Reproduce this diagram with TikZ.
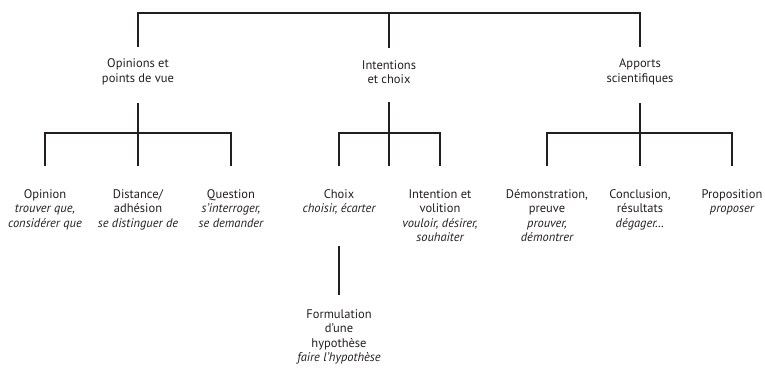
\documentclass[tikz,border=0pt]{standalone}
\usepackage{fontspec}
\setmainfont{PT Sans}
\definecolor{ink}{RGB}{35,31,32}

\begin{document}
\begin{tikzpicture}[x=1pt,y=-1pt,
    lab/.style={align=center,inner sep=0pt,text=ink,
      font=\fontsize{12.5}{14.5}\selectfont},
    link/.style={ink,line width=1.8pt}]
  \useasboundingbox (0,0) rectangle (765,367);
  % premier niveau
  \coordinate (top) at (389,13);
  \node[lab] (opin) at (138,72) {Opinions et\\points de vue};
  \node[lab] (inte) at (389,72) {Intentions\\et choix};
  \node[lab] (appo) at (640,72) {Apports\\scientifiques};
  \draw[link] ([yshift=12pt]opin.north) |- (top) -| ([yshift=12pt]appo.north);
  \draw[link] (top) -- ([yshift=12pt]inte.north);
  % second niveau
  \node[lab,anchor=north] (opi) at (45,189) {Opinion\\\itshape trouver que,\\\itshape considérer que};
  \node[lab,anchor=north] (dist) at (138,189) {Distance/\\adhésion\\\itshape se distinguer de};
  \node[lab,anchor=north] (ques) at (231,189) {Question\\\itshape s’interroger,\\\itshape se demander};
  \node[lab,anchor=north] (choix) at (339,189) {Choix\\\itshape choisir, écarter};
  \node[lab,anchor=north] (voli) at (440,189) {Intention et\\volition\\\itshape vouloir, désirer,\\\itshape souhaiter};
  \node[lab,anchor=north] (demo) at (547,189) {Démonstration,\\preuve\\\itshape prouver,\\\itshape démontrer};
  \node[lab,anchor=north] (conc) at (640,189) {Conclusion,\\résultats\\\itshape dégager…};
  \node[lab,anchor=north] (prop) at (732,189) {Proposition\\\itshape proposer};
  \node[lab,anchor=north] (form) at (339,309) {Formulation\\d’une\\hypothèse\\\itshape faire l’hypothèse};
  \coordinate (opin-j) at (138,133);
  \coordinate (inte-j) at (389,133);
  \coordinate (appo-j) at (640,133);
  \draw[link] ([yshift=-18pt]opin.south) -- ([yshift=23pt]dist.north);
  \draw[link] ([yshift=23pt]opi.north) |- (opin-j) -| ([yshift=23pt]ques.north);
  \draw[link] ([yshift=-18pt]inte.south) -- ([yshift=23pt]inte.south |- choix.north);
  \draw[link] ([yshift=23pt]choix.north) |- (inte-j) -| ([yshift=23pt]voli.north);
  \draw[link] ([yshift=-18pt]appo.south) -- ([yshift=23pt]conc.north);
  \draw[link] ([yshift=23pt]demo.north) |- (appo-j) -| ([yshift=23pt]prop.north);
  % troisieme niveau
  \draw[link] ([yshift=-31pt]choix.south) -- ([yshift=14pt]form.north);
\end{tikzpicture}
\end{document}
